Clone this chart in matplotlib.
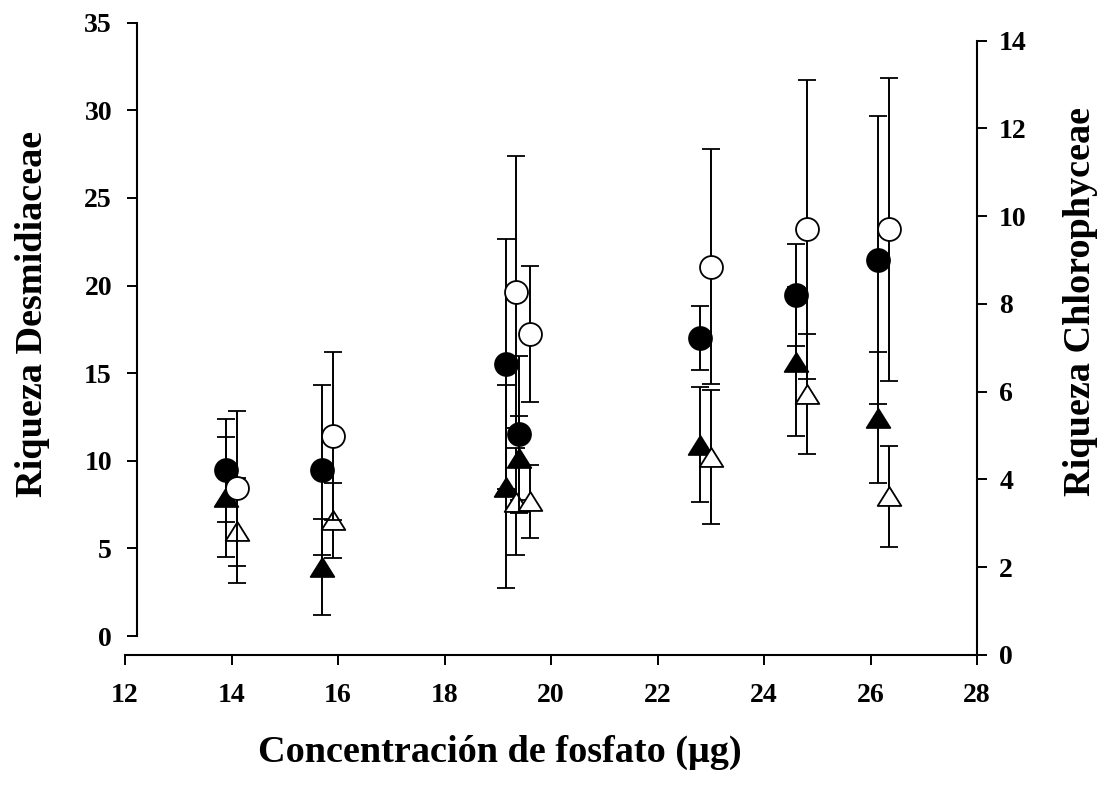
import matplotlib
matplotlib.use("Agg")
import matplotlib.pyplot as plt
from matplotlib.path import Path

# fosfato (x), filled = one sampling group, open = the other (shifted +0.2)
x_lleno = [13.9, 15.7, 19.15, 19.4, 22.8, 24.6, 26.15]
x_vacio = [14.1, 15.9, 19.35, 19.6, 23.0, 24.8, 26.35]

# Riqueza Desmidiaceae (left axis) - circles
desm_lleno = [9.45, 9.45, 15.5, 11.5, 17.0, 19.45, 21.45]
desm_lleno_err = [2.93, 4.85, 7.13, 4.47, 1.83, 2.92, 8.22]
desm_vacio = [8.43, 11.42, 19.65, 17.25, 21.08, 23.2, 23.2]
desm_vacio_err = [4.42, 4.78, 7.76, 3.89, 6.70, 8.52, 8.62]

# Riqueza Chlorophyceae (right axis) - triangles
chlo_lleno = [3.60, 2.0, 3.84, 4.49, 4.79, 6.68, 5.41]
chlo_lleno_err = [1.36, 1.09, 2.31, 0.95, 1.31, 1.70, 1.50]
chlo_vacio = [2.83, 3.07, 3.49, 3.5, 4.51, 5.95, 3.62]
chlo_vacio_err = [1.20, 0.86, 1.22, 0.83, 1.52, 1.37, 1.15]

xticks = list(range(12, 29, 2))
left_ticks = list(range(0, 36, 5))
right_ticks = list(range(0, 15, 2))

plt.rcParams["font.family"] = ["Liberation Serif", "DejaVu Serif"]
plt.rcParams["font.weight"] = "bold"

W, H = 1114, 785
fig = plt.figure(figsize=(W / 100, H / 100), dpi=100)

# slightly flattened triangle, closed so the outline is complete
tri = Path([(0, 0.8), (-1, -0.8), (1, -0.8), (0, 0.8)],
           [Path.MOVETO, Path.LINETO, Path.LINETO, Path.CLOSEPOLY])
ebkw = dict(ecolor="black", elinewidth=1.4, capsize=6.5, capthick=1.4,
            linestyle="none", markeredgecolor="black", markeredgewidth=1.3)

# axes with x axis and right (Chlorophyceae) axis
ax2 = fig.add_axes([125 / W, 130 / H, 852 / W, 614.3 / H])
ax2.set_facecolor("none")
ax2.set_xlim(12, 28)
ax2.set_ylim(0, 14)
ax2.spines["top"].set_visible(False)
ax2.spines["left"].set_visible(False)
for s in ("bottom", "right"):
    ax2.spines[s].set_linewidth(1.5)
ax2.yaxis.tick_right()
ax2.set_xticks(xticks)
ax2.set_yticks(right_ticks)
ax2.tick_params(axis="both", direction="out", length=7, width=1.4, labelsize=20)
ax2.tick_params(axis="x", pad=13)
ax2.tick_params(axis="y", pad=9)

ax2.errorbar(x_lleno, chlo_lleno, yerr=chlo_lleno_err, marker=tri, markersize=17,
             markerfacecolor="black", clip_on=False, **ebkw)
ax2.errorbar(x_vacio, chlo_vacio, yerr=chlo_vacio_err, marker=tri, markersize=17,
             markerfacecolor="white", clip_on=False, **ebkw)

# axes with left (Desmidiaceae) axis, shifted up like the original
ax1 = fig.add_axes([125 / W, 149 / H, 852 / W, 613.3 / H])
ax1.set_facecolor("none")
ax1.set_xlim(12, 28)
ax1.set_ylim(0, 35)
for s in ("top", "right", "bottom"):
    ax1.spines[s].set_visible(False)
ax1.spines["left"].set_linewidth(1.5)
ax1.spines["left"].set_position(("axes", 12 / 852))
ax1.set_xticks([])
ax1.set_yticks(left_ticks)
ax1.tick_params(axis="y", direction="out", length=7, width=1.4, labelsize=20, pad=11)

ax1.errorbar(x_lleno, desm_lleno, yerr=desm_lleno_err, marker="o", markersize=16.5,
             markerfacecolor="black", clip_on=False, **ebkw)
ax1.errorbar(x_vacio, desm_vacio, yerr=desm_vacio_err, marker="o", markersize=16.5,
             markerfacecolor="white", clip_on=False, **ebkw)

fig.text(33 / W, 1 - 314 / H, "Riqueza Desmidiaceae", rotation=90,
         ha="center", va="center", fontsize=27.5, fontweight="bold")
fig.text(1081 / W, 1 - 302 / H, "Riqueza Chlorophyceae", rotation=90,
         ha="center", va="center", fontsize=27.5, fontweight="bold")
fig.text(500 / W, 1 - 752 / H, "Concentración de fosfato (μg)",
         ha="center", va="center", fontsize=27.5, fontweight="bold")

fig.savefig("out.png", dpi=100)
